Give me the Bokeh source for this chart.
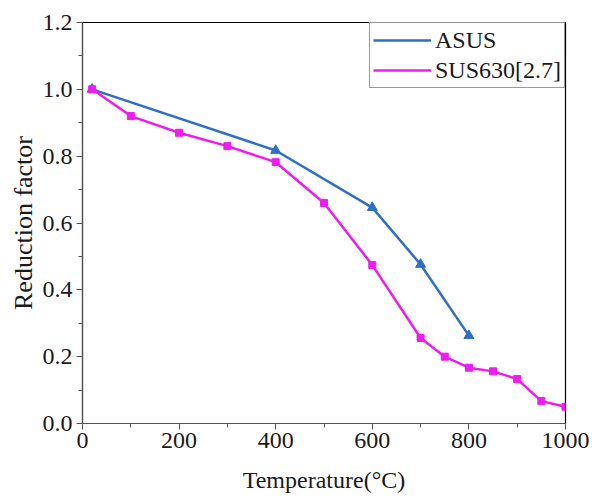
from bokeh.plotting import figure
from bokeh.models import Range1d, FixedTicker, NumeralTickFormatter, Legend, LegendItem
from bokeh.embed import file_html
from bokeh.resources import INLINE

asus_t = [20, 400, 600, 700, 800]
asus_v = [1.0, 0.817, 0.646, 0.476, 0.263]
sus_t = [20, 100, 200, 300, 400, 500, 600, 700, 750, 800, 850, 900, 950, 1000]
sus_v = [1.0, 0.92, 0.87, 0.83, 0.782, 0.66, 0.474, 0.256, 0.2, 0.167, 0.156, 0.133, 0.067, 0.05]
x_ticks = [0, 200, 400, 600, 800, 1000]
x_minor = [100, 300, 500, 700, 900]
y_ticks = [0.0, 0.2, 0.4, 0.6, 0.8, 1.0, 1.2]
y_minor = [0.1, 0.3, 0.5, 0.7, 0.9, 1.1]

FONT = "Liberation Serif"
BLUE = "#2f6fc6"
MAG = "#ee1cee"

p = figure(width=592, height=502, output_backend="svg", toolbar_location=None,
           x_range=Range1d(0, 1000), y_range=Range1d(0, 1.2),
           min_border_left=82, min_border_right=27, min_border_top=22, min_border_bottom=79)
p.xgrid.visible = False
p.ygrid.visible = False
p.outline_line_color = "black"
p.outline_line_width = 1.2
p.background_fill_color = "white"
p.border_fill_color = "white"

p.xaxis.ticker = FixedTicker(ticks=x_ticks, minor_ticks=x_minor)
p.yaxis.ticker = FixedTicker(ticks=y_ticks, minor_ticks=y_minor)
p.yaxis.formatter = NumeralTickFormatter(format="0.0")
for ax in (p.xaxis[0], p.yaxis[0]):
    ax.axis_line_color = "#555555"
    ax.axis_line_width = 1.2
    ax.major_tick_line_color = "#555555"
    ax.minor_tick_line_color = "#555555"
    ax.major_tick_in = 0
    ax.major_tick_out = 6
    ax.minor_tick_in = 0
    ax.minor_tick_out = 4
    ax.major_label_text_font = FONT
    ax.major_label_text_font_size = "24px"
    ax.major_label_text_color = "#1a1a1a"
    ax.axis_label_text_font = FONT
    ax.axis_label_text_font_style = "normal"
    ax.axis_label_text_color = "#1a1a1a"
p.xaxis.axis_label = "Temperature(°C)"
p.yaxis.axis_label = "Reduction factor"
p.xaxis.axis_label_text_font_size = "24px"
p.yaxis.axis_label_text_font_size = "26px"
p.xaxis.major_label_standoff = 3
p.yaxis.major_label_standoff = 4
p.xaxis.axis_label_standoff = 16
p.yaxis.axis_label_standoff = 2

l1 = p.line(asus_t, asus_v, line_color=BLUE, line_width=2.5)
p.scatter(asus_t, asus_v, marker="triangle", size=10, fill_color=BLUE, line_color=BLUE)
l2 = p.line(sus_t, sus_v, line_color=MAG, line_width=2.5)
p.scatter(sus_t, sus_v, marker="square", size=7, fill_color=MAG, line_color=MAG)

legend = Legend(items=[LegendItem(label="ASUS", renderers=[l1]),
                       LegendItem(label="SUS630[2.7]", renderers=[l2])],
                location="top_right")
legend.label_text_font = FONT
legend.label_text_font_size = "24px"
legend.label_text_color = "#1a1a1a"
legend.border_line_color = "#333333"
legend.border_line_width = 1
legend.margin = 0
legend.padding = 3
legend.spacing = 2
legend.glyph_width = 58
legend.label_standoff = 4
legend.label_height = 28
legend.glyph_height = 28
p.add_layout(legend)

open("out.html", "w").write(file_html(p, INLINE))
